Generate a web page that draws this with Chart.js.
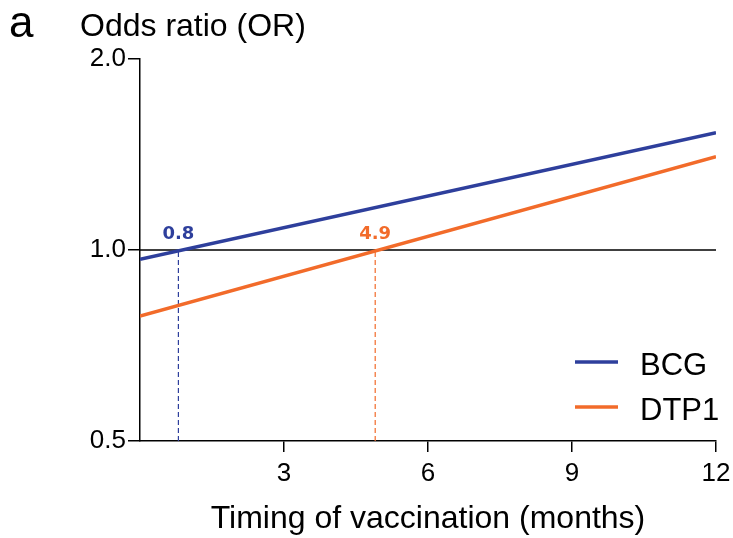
<!DOCTYPE html>
<html>
<head>
<meta charset="utf-8">
<script src="https://cdn.jsdelivr.net/npm/chart.js@4"></script>
<style>
html, body { margin: 0; padding: 0; background: #fff; }
</style>
</head>
<body>
<canvas id="myChart" width="733" height="538"></canvas>
<script>
// values
const months = [0, 12];
const bcg = [0.967, 1.53];
const dtp1 = [0.787, 1.403];
const seriesNames = ['BCG', 'DTP1'];
const crossing = [0.8, 4.9];
const crossLabels = ['0.8', '4.9'];
const yTicks = [0.5, 1.0, 2.0];
const xTicks = [3, 6, 9, 12];

const blue = '#2e3f9c';
const orange = '#f26b2a';
const colors = [blue, orange];
const sans = '"Liberation Sans", Arial, sans-serif';

const pts = (xs, ys) => xs.map((x, i) => ({ x: x, y: ys[i] }));

const extras = {
  id: 'extras',
  afterDraw(chart) {
    const ctx = chart.ctx;
    const x = chart.scales.x, y = chart.scales.y;
    ctx.save();
    ctx.fillStyle = '#000';
    ctx.textBaseline = 'alphabetic';
    ctx.font = '44px ' + sans;
    ctx.fillText('a', 9, 37);
    ctx.font = '32px ' + sans;
    ctx.fillText('Odds ratio (OR)', 80, 36);

    // crossing labels
    ctx.font = 'bold 18px "DejaVu Sans"';
    ctx.textAlign = 'center';
    crossing.forEach((v, i) => {
      ctx.fillStyle = colors[i];
      ctx.fillText(crossLabels[i], x.getPixelForValue(v), y.getPixelForValue(1) - 11);
    });

    // legend
    ctx.textAlign = 'left';
    ctx.font = '31px ' + sans;
    seriesNames.forEach((name, i) => {
      const ly = 362 + i * 45;
      ctx.strokeStyle = colors[i];
      ctx.lineWidth = 3.5;
      ctx.beginPath();
      ctx.moveTo(575, ly);
      ctx.lineTo(618, ly);
      ctx.stroke();
      ctx.fillStyle = '#000';
      ctx.fillText(name, 640, ly + 13);
    });
    ctx.restore();
  }
};

const datasets = [
  { label: seriesNames[0], data: pts(months, bcg), borderColor: blue, borderWidth: 3.5 },
  { label: seriesNames[1], data: pts(months, dtp1), borderColor: orange, borderWidth: 3.5 },
  { label: 'ref', data: pts(months, [1, 1]), borderColor: '#000', borderWidth: 1.5 },
];
crossing.forEach((v, i) => {
  datasets.push({ label: 'drop' + i, data: pts([v, v], [yTicks[0], 1]), borderColor: colors[i], borderWidth: 1.2, borderDash: [5, 3] });
});

const myChart = new Chart(document.getElementById('myChart').getContext('2d'), {
  type: 'line',
  data: { datasets: datasets },
  options: {
    responsive: false,
    animation: false,
    layout: { padding: { top: 59, right: 17, left: 0, bottom: 0 } },
    elements: { point: { radius: 0 }, line: { tension: 0 } },
    plugins: { legend: { display: false }, tooltip: { enabled: false } },
    scales: {
      x: {
        type: 'linear',
        min: 0,
        max: 12,
        afterBuildTicks: s => { s.ticks = xTicks.map(v => ({ value: v })); },
        afterFit: s => { s.height = 97; s.paddingLeft = 0; s.paddingRight = 0; },
        grid: { drawOnChartArea: false, color: '#000', lineWidth: 1.5, tickLength: 11 },
        border: { color: '#000', width: 1.5 },
        ticks: { color: '#000', font: { family: sans, size: 26 }, padding: 6, maxRotation: 0 },
        title: { display: true, text: 'Timing of vaccination (months)', color: '#000', font: { family: sans, size: 32 }, padding: { top: 0, bottom: 0 } }
      },
      y: {
        type: 'logarithmic',
        min: 0.5,
        max: 2,
        afterBuildTicks: s => { s.ticks = yTicks.map(v => ({ value: v })); },
        afterFit: s => { s.width = 140; s.paddingTop = 0; s.paddingBottom = 0; },
        grid: { drawOnChartArea: false, color: '#000', lineWidth: 1.5, tickLength: 12 },
        border: { color: '#000', width: 1.5 },
        ticks: { color: '#000', font: { family: sans, size: 26 }, padding: 2, callback: v => Number(v).toFixed(1) }
      }
    }
  },
  plugins: [extras]
});
</script>
</body>
</html>
